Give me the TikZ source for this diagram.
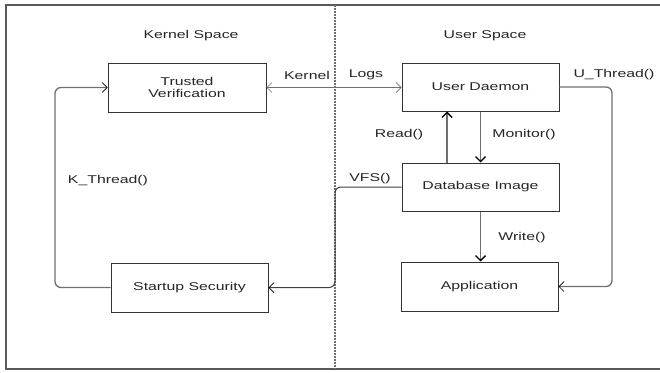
\documentclass[tikz,border=0pt]{standalone}
\usepackage{fontspec}
\setmainfont{Liberation Sans}[FakeStretch=1.4]
\usetikzlibrary{arrows.meta}
\definecolor{linegray}{HTML}{707070}
\definecolor{framegray}{HTML}{5A5A5A}
\definecolor{txtgray}{HTML}{262626}
\begin{document}
\begin{tikzpicture}[x=1pt,y=-1pt,
  font=\fontsize{11.3}{13}\selectfont,
  box/.style={draw=black!80, line width=1pt, fill=white, minimum width=157pt, minimum height=48pt, inner sep=0pt, align=center, text=txtgray},
  lbl/.style={text=txtgray, inner sep=0pt},
  conn/.style={draw=linegray, line width=1.3pt, rounded corners=6pt},
  thin tip/.style={-{Straight Barb[length=5pt,width=10pt,line width=0.7pt]}},
  bold tip/.style={-{Straight Barb[length=5pt,width=10pt,line width=1.4pt]}, arrows={[color=black]}},
]
\useasboundingbox (0,0) rectangle (660,372);
\fill[white] (0,0) rectangle (660,372);
% frame
\draw[framegray, line width=1.4pt] (660,5) -- (6,5) -- (6,369) -- (660,369);
% divider
\draw[linegray, line width=2pt, dash pattern=on 1.6pt off 1.4pt] (335,5) -- (335,369);

% boxes
\node[box, minimum width=158pt, minimum height=49pt] (tv) at (187,87.5) {Trusted\\[-1pt]Verification};
\node[box] (ud) at (480.5,87) {User Daemon};
\node[box] (db) at (480.5,187) {Database Image};
\node[box, minimum height=49pt] (app) at (479.5,286.5) {Application};
\node[box, minimum height=49pt] (ss) at (189.5,287.5) {Startup Security};

% corner coordinates
\coordinate (kc) at (55,0);
\coordinate (uc) at (612,0);
\coordinate (vc) at (335,0);

% connectors
\draw[conn, line width=0.9pt, {Straight Barb[length=5pt,width=10pt,line width=0.6pt]}-{Straight Barb[length=5pt,width=10pt,line width=0.6pt]}] (tv.east) -- (tv.east -| ud.west);
\draw[conn, thin tip, arrows={[color=black]}] (ss.west) -- (ss.west -| kc) -- (tv.west -| kc) -- (tv.west);
\draw[conn, thin tip, arrows={[color=black]}] (ud.east) -- (ud.east -| uc) -- (app.east -| uc) -- (app.east);
\draw[conn, thin tip, arrows={[color=black]}, line width=1pt, draw=black!75] (db.west) -- (db.west -| vc) -- (ss.east -| vc) -- (ss.east);
\draw[conn, bold tip] ([xshift=-33.5pt]db.north) -- ([xshift=-33.5pt]ud.south);
\draw[conn, bold tip] (ud.south) -- (db.north);
\draw[conn, bold tip] (db.south) -- (db.south |- app.north);

% labels
\node[lbl] (lks) at (191,36) {Kernel Space};
\node[lbl] (lus) at (485,36) {User Space};
\node[lbl] (lk) at (307,75) {Kernel};
\node[lbl] (ll) at (366,75) {Logs};
\node[lbl] (lut) at (614,75) {U\_Thread()};
\node[lbl] (lr) at (399,135) {Read()};
\node[lbl] (lm) at (524,135) {Monitor()};
\node[lbl] (lv) at (370,179) {VFS()};
\node[lbl] (lkt) at (108,181) {K\_Thread()};
\node[lbl] (lw) at (522,238) {Write()};
\end{tikzpicture}
\end{document}
